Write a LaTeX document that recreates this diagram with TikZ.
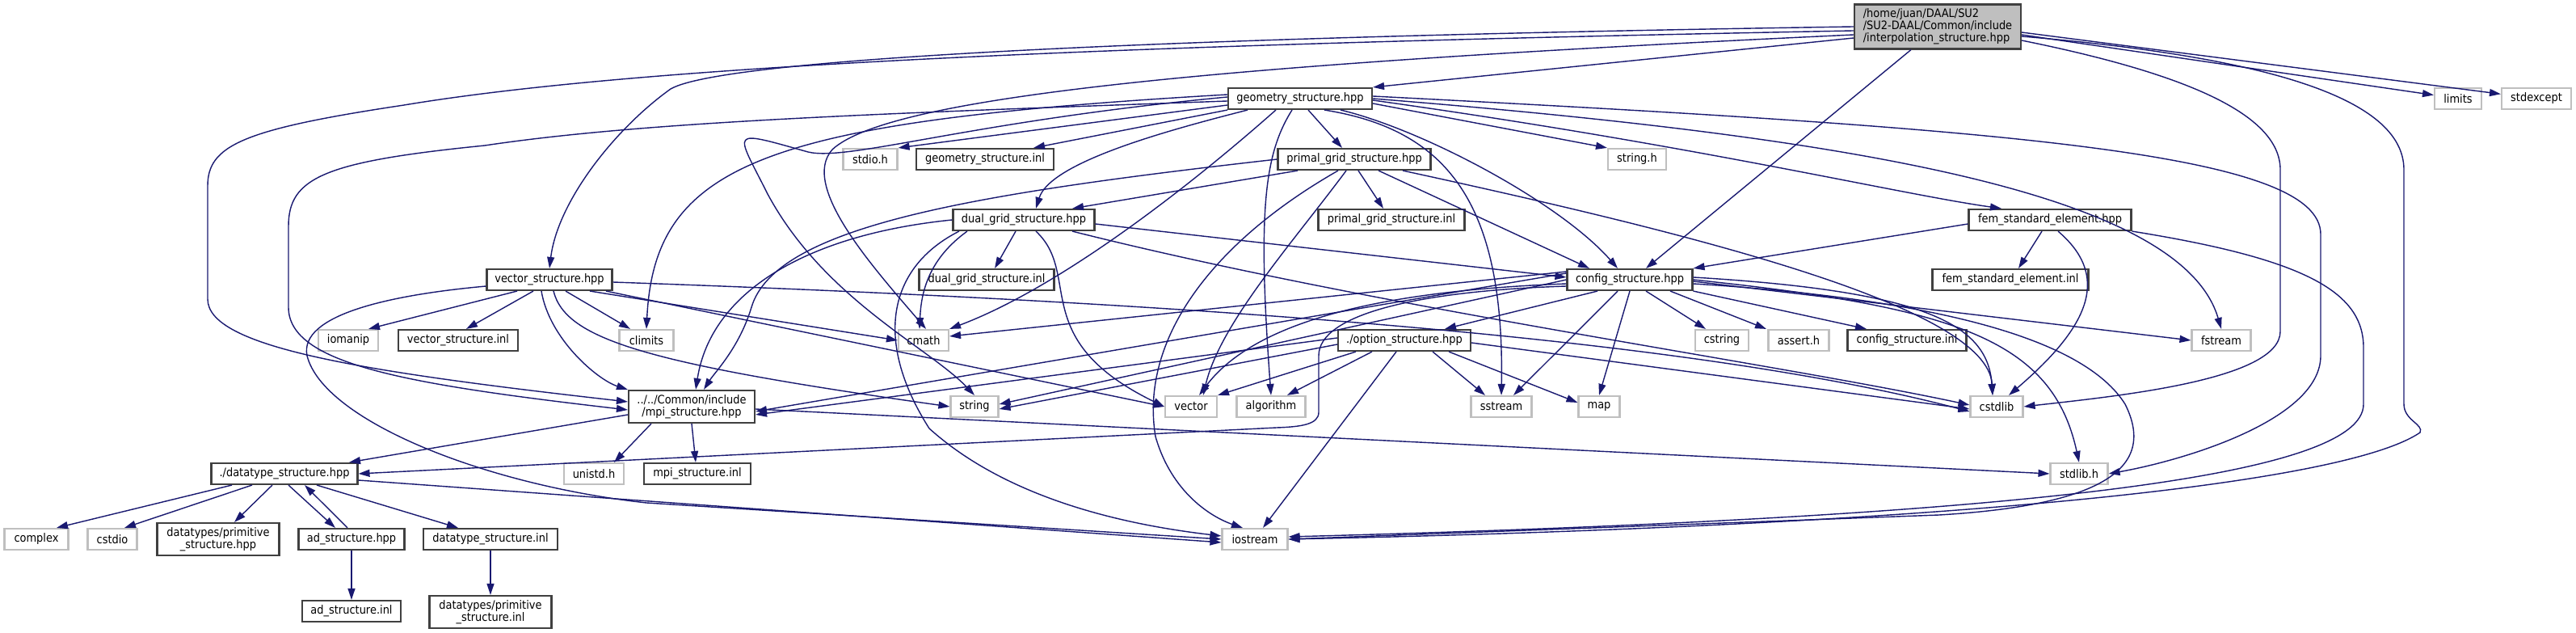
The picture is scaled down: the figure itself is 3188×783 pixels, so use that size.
\documentclass[tikz,border=0pt]{standalone}
\usepackage{fontspec}
\setmainfont{DejaVu Sans}[FakeStretch=0.9]
\usetikzlibrary{arrows.meta}
\definecolor{edgeblue}{HTML}{191970}
\definecolor{boxgray}{HTML}{BFBFBF}
\definecolor{boxline}{HTML}{404040}
\tikzset{
  every node/.style={font=\fontsize{4.1}{4.2}\selectfont, inner sep=0pt},
  box/.style={rectangle, fill=white, line width=0.6pt, minimum height=0.26cm, minimum width=#1*0.01cm},
  docbox/.style={box=#1, draw=boxline},
  sysbox/.style={box=#1, draw=boxgray},
  mainbox/.style={box=#1, draw=boxline, fill=boxgray, minimum height=0.55cm, align=left},
  edge/.style={draw=edgeblue, line width=0.4pt, -{Triangle[length=0.14cm,width=0.09cm]}},
}
\begin{document}
\begin{tikzpicture}[x=0.01cm, y=-0.01cm]
    \useasboundingbox (0,0) rectangle (3188,783);

    % headers
    \node[mainbox=206] (main) at (2398,33) {/home/juan/DAAL/SU2\\/SU2-DAAL/Common/include\\/interpolation\_structure.hpp};
    \node[docbox=178] (geo) at (1609,122) {geometry\_structure.hpp};
    \node[sysbox=58] (limits) at (3042,122) {limits};
    \node[sysbox=86] (stdexcept) at (3139,122) {stdexcept};
    \node[sysbox=67] (stdioh) at (1077,197) {stdio.h};
    \node[docbox=170] (geoinl) at (1219,197) {geometry\_structure.inl};
    \node[docbox=189] (primal) at (1676,197) {primal\_grid\_structure.hpp};
    \node[sysbox=72] (stringh) at (2026,197) {string.h};
    \node[docbox=175] (dual) at (1267,272) {dual\_grid\_structure.hpp};
    \node[docbox=181] (primalinl) at (1722,272) {primal\_grid\_structure.inl};
    \node[docbox=201] (fem) at (2537,272) {fem\_standard\_element.hpp};
    \node[docbox=155] (vec) at (680,346) {vector\_structure.hpp};
    \node[docbox=167] (dualinl) at (1221,346) {dual\_grid\_structure.inl};
    \node[docbox=155] (cfg) at (2017,346) {config\_structure.hpp};
    \node[docbox=193] (feminl) at (2488,346) {fem\_standard\_element.inl};
    \node[sysbox=74] (iomanip) at (431,421) {iomanip};
    \node[docbox=148] (vecinl) at (567,421) {vector\_structure.inl};
    \node[sysbox=67] (climits) at (800,421) {climits};
    \node[sysbox=62] (cmath) at (1143,421) {cmath};
    \node[docbox=164] (option) at (1738,421) {./option\_structure.hpp};
    \node[sysbox=66] (cstring) at (2131,421) {cstring};
    \node[sysbox=75] (asserth) at (2226,421) {assert.h};
    \node[docbox=147] (cfginl) at (2360,421) {config\_structure.inl};
    \node[sysbox=73] (fstream) at (2749,421) {fstream};
    \node[docbox=156, minimum height=0.40cm, align=center] (mpi) at (856,503) {../../Common/include\\/mpi\_structure.hpp};
    \node[sysbox=59] (string) at (1206,503) {string};
    \node[sysbox=64] (vector) at (1474,503) {vector};
    \node[sysbox=85] (algorithm) at (1573,503) {algorithm};
    \node[sysbox=75] (sstream) at (1858,503) {sstream};
    \node[sysbox=51] (map) at (1979,503) {map};
    \node[sysbox=65] (cstdlib) at (2471,503) {cstdlib};
    \node[docbox=181] (datatype) at (352,586) {./datatype\_structure.hpp};
    \node[sysbox=74] (unistd) at (735,586) {unistd.h};
    \node[docbox=132] (mpiinl) at (863,586) {mpi\_structure.inl};
    \node[sysbox=71] (stdlibh) at (2573,586) {stdlib.h};
    \node[sysbox=79] (complex) at (45,667) {complex};
    \node[sysbox=61] (cstdio) at (139,667) {cstdio};
    \node[docbox=151, minimum height=0.40cm, align=center] (primhpp) at (270,667) {datatypes/primitive\\\_structure.hpp};
    \node[docbox=131] (ad) at (435,667) {ad\_structure.hpp};
    \node[docbox=166] (dtinl) at (607,667) {datatype\_structure.inl};
    \node[sysbox=81] (iostream) at (1553,667) {iostream};
    \node[docbox=122] (adinl) at (435,756) {ad\_structure.inl};
    \node[docbox=151, minimum height=0.40cm, align=center] (priminl) at (607,757) {datatypes/primitive\\\_structure.inl};

    % interpolation_structure.hpp
    \draw[edge] (main.west) .. controls (1500,45) and (900,70) .. (830,110) .. controls (760,160) and (690,250) .. (vec.north);
    \draw[edge] ([yshift=-0.05cm]main.west) .. controls (1400,55) and (800,80) .. (500,130) .. controls (300,160) and (257,180) .. (257,230) -- (257,370) .. controls (257,430) and (450,460) .. ([yshift=0.06cm]mpi.west);
    \draw[edge] ([yshift=-0.1cm]main.west) .. controls (1500,80) and (1100,120) .. (1030,185) .. controls (990,230) and (1080,330) .. ([xshift=0.03cm]cmath.north);
    \draw[edge] ([yshift=-0.14cm]main.west) -- (geo.north east);
    \draw[edge] ([xshift=-0.33cm]main.south) -- ([xshift=0.2cm]cfg.north);
    \draw[edge] ([yshift=-0.1cm]main.east) -- (limits);
    \draw[edge] ([yshift=-0.07cm]main.east) -- (stdexcept);
    \draw[edge] ([yshift=-0.17cm]main.east) .. controls (2700,90) and (2822,140) .. (2822,210) -- (2822,410) .. controls (2822,470) and (2620,490) .. (cstdlib.east);
    \draw[edge] ([yshift=-0.12cm]main.east) .. controls (2800,70) and (2975,120) .. (2975,210) -- (2975,500) .. controls (2975,520) and (3000,525) .. (2995,535) .. controls (2900,600) and (2400,650) .. (iostream.east);

    % geometry_structure.hpp
    \draw[edge] ([yshift=-0.08cm]geo.west) -- (stdioh.north east);
    \draw[edge] (geo.south west) -- ([xshift=0.6cm]geoinl.north);
    \draw[edge] ([xshift=0.1cm]geo.south) -- ([xshift=-0.15cm]primal.north);
    \draw[edge] ([xshift=-0.65cm]geo.south) .. controls (1450,160) and (1300,200) .. ([xshift=0.15cm]dual.north);
    \draw[edge] ([xshift=0.5cm]geo.south) .. controls (1760,160) and (1930,250) .. ([xshift=-0.15cm]cfg.north);
    \draw[edge] ([yshift=-0.06cm]geo.east) -- (stringh.north west);
    \draw[edge] ([yshift=-0.02cm]geo.east) .. controls (2100,180) and (2350,240) .. ([xshift=-0.6cm]fem.north);
    \draw[edge] ([yshift=0.03cm]geo.east) .. controls (2500,160) and (2872,190) .. (2872,290) -- (2872,440) .. controls (2872,520) and (2700,570) .. (stdlibh.east);
    \draw[edge] ([yshift=0cm]geo.east) .. controls (2300,170) and (2700,240) .. (fstream.north);
    \draw[edge] ([xshift=0.3cm]geo.south) .. controls (1790,160) and (1862,250) .. (sstream.north);
    \draw[edge] ([xshift=-0.1cm]geo.south) .. controls (1565,190) and (1556,260) .. (algorithm.north);
    \draw[edge] ([xshift=-0.3cm]geo.south) .. controls (1450,250) and (1300,360) .. (cmath.north east);
    \draw[edge] ([yshift=0.05cm]geo.west) .. controls (950,150) and (810,200) .. (climits.north);
    \draw[edge] ([yshift=-0.03cm]geo.west) .. controls (1100,140) and (800,150) .. (600,180) .. controls (400,200) and (357,220) .. (357,280) -- (357,380) .. controls (357,450) and (500,475) .. ([yshift=-0.04cm]mpi.west);
    \draw[edge] ([yshift=0.02cm]geo.west) .. controls (1200,150) and (1050,200) .. (1000,188) .. controls (900,160) and (910,160) .. (950,240) .. controls (1020,370) and (1150,430) .. (string.north);

    % primal and dual grid
    \draw[edge] ([xshift=0.05cm]primal.south) -- ([xshift=-0.1cm]primalinl.north);
    \draw[edge] ([xshift=0.3cm]primal.south) -- ([xshift=-0.5cm]cfg.north);
    \draw[edge] ([xshift=-0.7cm]primal.south) -- ([xshift=0.6cm]dual.north);
    \draw[edge] (primal.west) .. controls (1200,240) and (960,280) .. (930,380) .. controls (915,430) and (885,460) .. ([xshift=0.15cm]mpi.north);
    \draw[edge] ([xshift=-0.1cm]primal.south) .. controls (1600,300) and (1510,400) .. ([xshift=0.15cm]vector.north);
    \draw[edge] ([xshift=-0.2cm]primal.south) .. controls (1500,300) and (1410,420) .. (1430,540) .. controls (1450,610) and (1500,640) .. ([xshift=-0.15cm]iostream.north);
    \draw[edge] ([xshift=0.6cm]primal.south) .. controls (2100,290) and (2460,380) .. ([xshift=-0.05cm]cstdlib.north);
    \draw[edge] ([xshift=-0.1cm]dual.south) -- ([xshift=0.1cm]dualinl.north);
    \draw[edge] ([yshift=-0.05cm]dual.east) -- ([yshift=0.03cm]cfg.west);
    \draw[edge] ([xshift=-0.7cm]dual.south) .. controls (1150,320) and (1140,360) .. ([xshift=-0.05cm]cmath.north);
    \draw[edge] ([xshift=0.15cm]dual.south) .. controls (1340,340) and (1270,420) .. (vector.west);
    \draw[edge] ([xshift=0.6cm]dual.south) .. controls (1700,380) and (2200,450) .. ([yshift=0.02cm]cstdlib.west);
    \draw[edge] ([xshift=-0.8cm]dual.south) .. controls (1100,330) and (1080,420) .. (1150,530) .. controls (1250,620) and (1400,650) .. ([yshift=0.04cm]iostream.west);
    \draw[edge] (dual.west) .. controls (1000,290) and (880,360) .. ([xshift=0.05cm]mpi.north);

    % fem_standard_element.hpp
    \draw[edge] ([xshift=-0.1cm]fem.south) -- ([xshift=0.1cm]feminl.north);
    \draw[edge] ([yshift=-0.05cm]fem.west) -- (cfg.north east);
    \draw[edge] ([xshift=0.1cm]fem.south) .. controls (2610,340) and (2590,400) .. ([xshift=0.15cm]cstdlib.north);
    \draw[edge] (fem.south east) .. controls (2850,320) and (2925,360) .. (2925,430) -- (2925,500) .. controls (2925,590) and (2500,640) .. ([yshift=0.03cm]iostream.east);

    % config_structure.hpp
    \draw[edge] ([xshift=-0.4cm]cfg.south) -- ([xshift=0.5cm]option.north);
    \draw[edge] ([xshift=0.2cm]cfg.south) -- ([xshift=-0.2cm]cstring.north);
    \draw[edge] ([xshift=0.5cm]cfg.south) -- ([xshift=-0.4cm]asserth.north);
    \draw[edge] (cfg.south east) -- ([xshift=-0.5cm]cfginl.north);
    \draw[edge] ([xshift=-0.15cm]cfg.south) -- ([xshift=0.15cm]sstream.north);
    \draw[edge] (cfg.south) -- (map.north);
    \draw[edge] ([yshift=0.03cm]cfg.east) .. controls (2380,360) and (2460,400) .. ([xshift=-0.05cm]cstdlib.north);
    \draw[edge] (cfg.east) .. controls (2420,380) and (2540,420) .. (stdlibh.north);
    \draw[edge] ([yshift=-0.02cm]cfg.east) -- (fstream.west);
    \draw[edge] ([yshift=-0.05cm]cfg.east) .. controls (2400,370) and (2580,420) .. (2630,500) .. controls (2670,580) and (2600,625) .. (2400,637) -- (iostream.east);
    \draw[edge] ([yshift=0.08cm]cfg.west) -- ([yshift=-0.06cm]mpi.east);
    \draw[edge] ([yshift=0.1cm]cfg.west) -- ([yshift=0.05cm]cmath.east);
    \draw[edge] (cfg.west) -- ([yshift=0.03cm]string.east);
    \draw[edge] ([yshift=-0.05cm]cfg.west) .. controls (1700,360) and (1550,400) .. ([xshift=0.1cm]vector.north);
    \draw[edge] ([yshift=-0.08cm]cfg.west) .. controls (1750,360) and (1632,390) .. (1632,440) -- (1632,510) .. controls (1632,525) and (1610,528) .. (1580,529) -- (datatype.east);

    % option_structure.hpp
    \draw[edge] ([yshift=0.03cm]option.west) -- ([yshift=-0.1cm]mpi.east);
    \draw[edge] ([yshift=-0.05cm]option.west) -- ([yshift=-0.03cm]string.east);
    \draw[edge] ([xshift=-0.6cm]option.south) -- (vector.north east);
    \draw[edge] ([xshift=-0.4cm]option.south) -- ([xshift=0.2cm]algorithm.north);
    \draw[edge] ([xshift=0.35cm]option.south) -- ([xshift=-0.2cm]sstream.north);
    \draw[edge] ([xshift=0.55cm]option.south) -- ([yshift=0.05cm]map.west);
    \draw[edge] ([xshift=-0.1cm]option.south) -- ([xshift=0.1cm]iostream.north);
    \draw[edge] ([yshift=-0.03cm]option.east) -- ([yshift=-0.03cm]cstdlib.west);

    % vector_structure.hpp
    \draw[edge] ([xshift=-0.4cm]vec.south) -- ([xshift=0.25cm]iomanip.north);
    \draw[edge] ([xshift=-0.2cm]vec.south) -- ([xshift=0.1cm]vecinl.north);
    \draw[edge] ([xshift=0.2cm]vec.south) -- ([xshift=-0.2cm]climits.north);
    \draw[edge] ([xshift=0.5cm]vec.south) -- (cmath.west);
    \draw[edge] ([xshift=-0.1cm]vec.south) .. controls (680,420) and (740,470) .. (mpi.north west);
    \draw[edge] ([xshift=0.05cm]vec.south) .. controls (700,420) and (800,450) .. (string.west);
    \draw[edge] ([xshift=0.7cm]vec.south) -- (vector.west);
    \draw[edge] ([yshift=-0.03cm]vec.east) .. controls (1500,375) and (2100,420) .. ([yshift=-0.06cm]cstdlib.west);
    \draw[edge] ([yshift=-0.08cm]vec.west) .. controls (480,365) and (370,390) .. (380,440) .. controls (400,520) and (600,600) .. (800,622) -- (iostream.west);

    % mpi_structure.hpp and datatypes
    \draw[edge] ([yshift=-0.1cm]mpi.west) -- ([xshift=0.8cm]datatype.north);
    \draw[edge] ([xshift=-0.5cm]mpi.south) -- ([xshift=0.25cm]unistd.north);
    \draw[edge] (mpi.south) -- ([xshift=-0.02cm]mpiinl.north);
    \draw[edge] ([yshift=-0.03cm]mpi.east) -- (stdlibh.west);
    \draw[edge] ([xshift=-0.65cm]datatype.south) -- ([xshift=0.25cm]complex.north);
    \draw[edge] ([xshift=-0.4cm]datatype.south) -- ([xshift=0.15cm]cstdio.north);
    \draw[edge] ([xshift=-0.15cm]datatype.south) -- ([xshift=0.2cm]primhpp.north);
    \draw[edge] ([xshift=0.05cm]datatype.south) -- ([xshift=-0.2cm]ad.north);
    \draw[edge] ([xshift=-0.05cm]ad.north) -- ([xshift=0.25cm]datatype.south);
    \draw[edge] ([xshift=0.4cm]datatype.south) -- ([xshift=-0.4cm]dtinl.north);
    \draw[edge] ([yshift=-0.08cm]datatype.east) -- ([yshift=-0.04cm]iostream.west);
    \draw[edge] (ad.south) -- (adinl.north);
    \draw[edge] (dtinl.south) -- (priminl.north);
\end{tikzpicture}
\end{document}
